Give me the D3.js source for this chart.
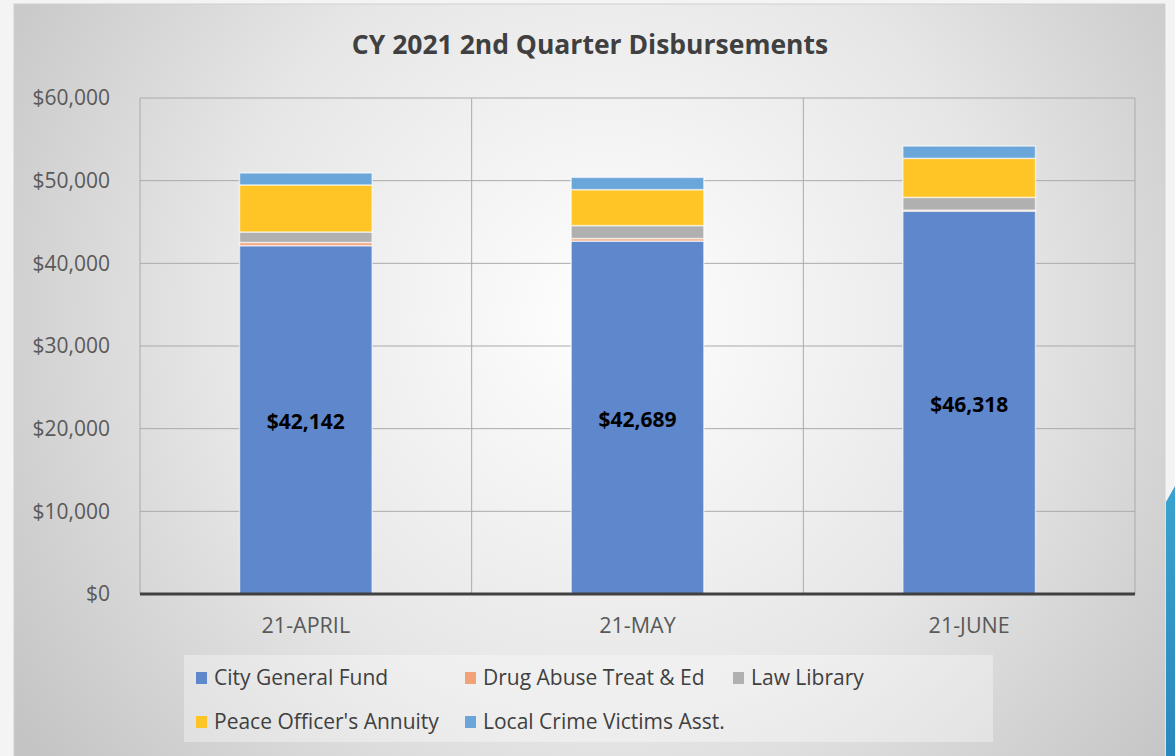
<!DOCTYPE html>
<html>
<head>
<meta charset="utf-8">
<script src="https://cdn.jsdelivr.net/npm/d3@7"></script>
<style>
  body { margin: 0; background: #fff; }
  svg { display: block; font-family: 'Open Sans', sans-serif; }
</style>
</head>
<body>
<div id="chart"></div>
<script>
const months = ['21-APRIL', '21-MAY', '21-JUNE']
const seriesNames = ['City General Fund', 'Drug Abuse Treat & Ed', 'Law Library',
    "Peace Officer's Annuity", 'Local Crime Victims Asst.']
const cityGeneralFund = [42142, 42689, 46318]
const drugAbuseTreat = [380, 310, 120]
const lawLibrary = [1270, 1570, 1540]
const peaceOfficerAnnuity = [5690, 4350, 4720]
const localCrimeVictims = [1450, 1480, 1490]
const yTicks = [0, 10000, 20000, 30000, 40000, 50000, 60000]
const colors = ['#5f87cc', '#f2a276', '#b0b0b0', '#ffc425', '#6aa6da']

const seriesValues = [cityGeneralFund, drugAbuseTreat, lawLibrary, peaceOfficerAnnuity, localCrimeVictims]
const table = months.map((m, i) => {
    const row = {month: m}
    seriesNames.forEach((s, j) => { row[s] = seriesValues[j][i] })
    return row
})

const width = 1175, height = 756
const margin = {top: 98, left: 140, right: 40, bottom: 162}
const plotW = width - margin.left - margin.right
const plotH = height - margin.top - margin.bottom

const svg = d3.select('#chart').append('svg')
    .attr('width', width).attr('height', height)

// background: radial light gradient inside the chart frame
const defs = svg.append('defs')
const grad = defs.append('radialGradient')
    .attr('id', 'bg').attr('gradientUnits', 'userSpaceOnUse')
    .attr('cx', 610).attr('cy', 320).attr('r', 720)
grad.append('stop').attr('offset', 0).attr('stop-color', '#ffffff')
grad.append('stop').attr('offset', 0.55).attr('stop-color', '#e6e6e6')
grad.append('stop').attr('offset', 1).attr('stop-color', '#c4c4c4')

const blueGrad = defs.append('linearGradient')
    .attr('id', 'deco').attr('x1', 0).attr('y1', 0).attr('x2', 0).attr('y2', 1)
blueGrad.append('stop').attr('offset', 0).attr('stop-color', '#3aa3cf')
blueGrad.append('stop').attr('offset', 1).attr('stop-color', '#2a88bc')

svg.append('rect').attr('width', width).attr('height', height).attr('fill', '#f4f4f4')
svg.append('rect')
    .attr('x', 14).attr('y', 4).attr('width', 1151).attr('height', 760)
    .attr('fill', 'url(#bg)').attr('stroke', '#d0d0d0')
svg.append('path')
    .attr('d', 'M1166,502 L1175,486 L1175,756 L1166,756 Z')
    .attr('fill', 'url(#deco)')

const g = svg.append('g').attr('transform', `translate(${margin.left},${margin.top})`)

const x = d3.scaleBand().domain(months).range([0, plotW]).paddingInner(0.6).paddingOuter(0.3)
const xCat = d3.scaleBand().domain(months).range([0, plotW])
const y = d3.scaleLinear().domain([0, 60000]).range([plotH, 0])

// gridlines
g.selectAll('.hgrid').data(yTicks).join('line')
    .attr('x1', 0).attr('x2', plotW)
    .attr('y1', d => y(d)).attr('y2', d => y(d))
    .attr('stroke', '#aaaaaa').attr('stroke-width', 1)
g.selectAll('.vgrid').data(months.concat(['end'])).join('line')
    .attr('x1', (d, i) => i * xCat.step()).attr('x2', (d, i) => i * xCat.step())
    .attr('y1', 0).attr('y2', plotH)
    .attr('stroke', '#aaaaaa').attr('stroke-width', 1)

// stacked bars
const stack = d3.stack().keys(seriesNames)(table)
g.selectAll('.series').data(stack).join('g')
    .attr('fill', (d, i) => colors[i])
  .selectAll('rect').data(d => d).join('rect')
    .attr('x', d => x(d.data.month))
    .attr('width', x.bandwidth())
    .attr('y', d => y(d[1]))
    .attr('height', d => y(d[0]) - y(d[1]))
    .attr('stroke', '#ffffff').attr('stroke-opacity', 0.6).attr('stroke-width', 1.5)

// value labels on City General Fund
g.selectAll('.vlabel').data(stack[0]).join('text')
    .attr('x', d => x(d.data.month) + x.bandwidth() / 2)
    .attr('y', d => (y(d[0]) + y(d[1])) / 2 + 2)
    .attr('dy', '0.35em')
    .attr('text-anchor', 'middle')
    .attr('font-size', 21).attr('font-weight', 700).attr('fill', '#000')
    .text(d => d3.format('$,')(d[1] - d[0]))

// axes
const yAxis = d3.axisLeft(y).tickValues(yTicks).tickFormat(d3.format('$,')).tickSize(0).tickPadding(30)
const yg = g.append('g').call(yAxis)
yg.select('.domain').remove()
yg.selectAll('text').attr('font-size', 21).attr('fill', '#595959').attr('font-family', "'Open Sans', sans-serif")

const xAxis = d3.axisBottom(xCat).tickSize(0).tickPadding(24)
const xg = g.append('g').attr('transform', `translate(0,${plotH})`).call(xAxis)
xg.select('.domain').remove()
xg.selectAll('text').attr('font-size', 21.5).attr('fill', '#595959').attr('font-family', "'Open Sans', sans-serif")
g.append('line')
    .attr('x1', 0).attr('x2', plotW).attr('y1', plotH).attr('y2', plotH)
    .attr('stroke', '#404040').attr('stroke-width', 3)

// title
svg.append('text')
    .attr('x', 590).attr('y', 54).attr('text-anchor', 'middle')
    .attr('font-size', 26.5).attr('font-weight', 700).attr('fill', '#404040')
    .text('CY 2021 2nd Quarter Disbursements')

// legend
svg.append('rect')
    .attr('x', 184).attr('y', 655).attr('width', 809).attr('height', 87)
    .attr('fill', '#ffffff').attr('fill-opacity', 0.35)
const legendPos = [[196, 678], [465, 678], [733, 678], [196, 722], [465, 722]]
const legend = svg.selectAll('.legend').data(seriesNames).join('g')
    .attr('transform', (d, i) => `translate(${legendPos[i][0]},${legendPos[i][1]})`)
legend.append('rect')
    .attr('x', 0).attr('y', -6).attr('width', 11).attr('height', 12)
    .attr('fill', (d, i) => colors[i])
legend.append('text')
    .attr('x', 18).attr('dy', '0.35em')
    .attr('font-size', 21).attr('fill', '#404040')
    .text(d => d)
</script>
</body>
</html>
